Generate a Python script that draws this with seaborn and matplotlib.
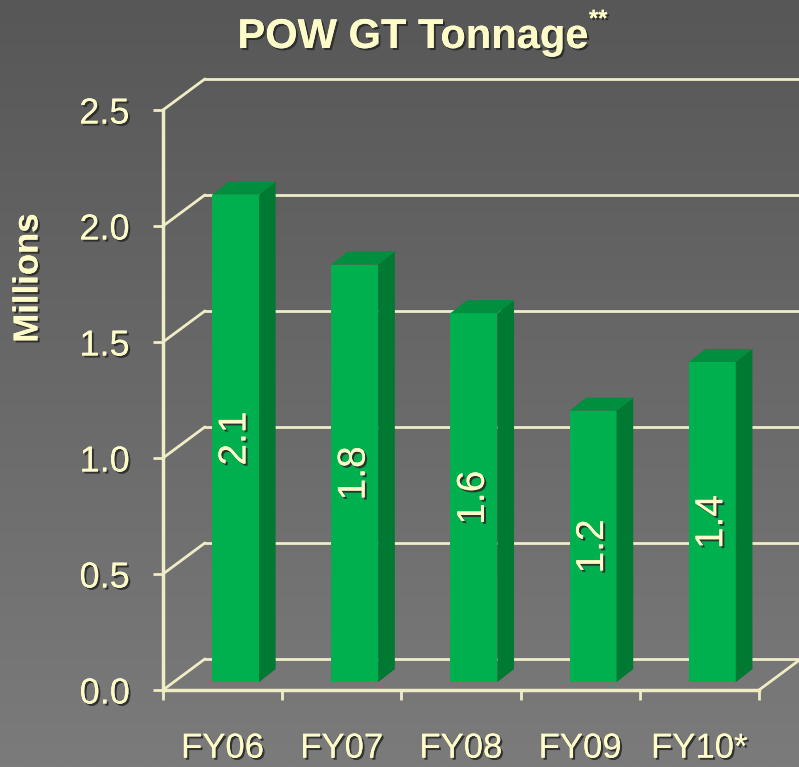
import numpy as np
import matplotlib
matplotlib.use("Agg")
import matplotlib.pyplot as plt
import matplotlib.patheffects as pe
from matplotlib.patches import Polygon
import seaborn as sns
import pandas as pd

# data
years = ["FY06", "FY07", "FY08", "FY09", "FY10*"]
tonnage = [2.10, 1.80, 1.59, 1.17, 1.38]   # millions GT
y_ticks = [0.0, 0.5, 1.0, 1.5, 2.0, 2.5]

df = pd.DataFrame({"year": years, "tonnage": tonnage})

# colours
cream = "#fdfbc8"
line_col = "#efecc6"
green_front = "#00b04f"
green_side = "#007a32"
green_top = "#008f3e"

sns.set_style("white")
narrow = ["Liberation Sans Narrow", "Liberation Sans", "DejaVu Sans"]
regular = ["Liberation Sans", "DejaVu Sans"]
plt.rcParams["font.family"] = regular

shadow = [pe.withSimplePatchShadow(offset=(1.5, -1.5), shadow_rgbFace="#2a2a2a", alpha=0.9),
          pe.Normal()]

fig = plt.figure(figsize=(7.99, 7.67), dpi=100)

# grey gradient backdrop
bg = fig.add_axes([0, 0, 1, 1], zorder=0)
grad = np.linspace(0, 1, 256).reshape(-1, 1)
bg.imshow(grad, aspect="auto", cmap=matplotlib.colors.LinearSegmentedColormap.from_list(
    "bg", ["#575757", "#7b7b7b"]), extent=[0, 1, 0, 1], origin="upper")
bg.set_axis_off()

W, H = 799, 767
ax = fig.add_axes([163 / W, (H - 690) / H, 596 / W, 580 / H], zorder=1)
ax.patch.set_alpha(0)

# depth of the 3d box (data units)
DX, DY = 0.352, 0.134
# bar placement inside the box
bx0, by0 = 0.108, 0.034
bdx, bdy = 0.14, 0.056
bar_w = 0.394

# back wall grid + left wall diagonals
for t in y_ticks:
    ax.plot([-0.5, -0.5 + DX], [t, t + DY], color=line_col, lw=2, clip_on=False, zorder=1)
    ax.plot([-0.5 + DX, 4.5 + DX], [t + DY, t + DY], color=line_col, lw=2, clip_on=False, zorder=1)
ax.plot([4.5, 4.5 + DX], [0, DY], color=line_col, lw=2, clip_on=False, zorder=1)

sns.barplot(data=df, x="year", y="tonnage", color=green_front, width=bar_w,
            saturation=1, ax=ax, zorder=3, edgecolor="none")

for p, v in zip(ax.patches, tonnage):
    x0 = p.get_x() + bx0
    w = p.get_width()
    h = p.get_height()
    p.set_x(x0)
    p.set_y(by0)
    p.set_clip_on(False)
    side = Polygon([(x0 + w, by0), (x0 + w + bdx, by0 + bdy),
                    (x0 + w + bdx, by0 + h + bdy), (x0 + w, by0 + h)],
                   closed=True, facecolor=green_side, edgecolor="none", zorder=3, clip_on=False)
    top = Polygon([(x0, by0 + h), (x0 + bdx, by0 + h + bdy),
                   (x0 + w + bdx, by0 + h + bdy), (x0 + w, by0 + h)],
                  closed=True, facecolor=green_top, edgecolor="none", zorder=3, clip_on=False)
    ax.add_patch(side)
    ax.add_patch(top)
    ax.text(x0 + w / 2, by0 + h / 2, f"{v:.1f}", rotation=90, ha="center", va="center",
            color=cream, fontsize=28, family=regular, zorder=5, path_effects=shadow)

ax.set_xlim(-0.5, 4.5)
ax.set_ylim(0, 2.5)

# front spines
for s in ["top", "right"]:
    ax.spines[s].set_visible(False)
for s in ["left", "bottom"]:
    ax.spines[s].set_color(line_col)
    ax.spines[s].set_linewidth(2.5)
    ax.spines[s].set_zorder(4)

ax.set_yticks(y_ticks)
ax.set_yticklabels([f"{t:.1f}" for t in y_ticks], family=narrow, fontsize=26,
                   color=cream, path_effects=shadow)
ax.set_xticks(np.arange(-0.5, 5.0, 1.0))
ax.set_xticklabels([])
ax.set_xticks(range(len(years)), minor=True)
ax.set_xticklabels(years, minor=True, family=narrow, fontsize=25, color=cream,
                   path_effects=shadow)
ax.tick_params(axis="y", which="major", direction="out", length=7, width=2,
               color=line_col, pad=17, left=True)
ax.tick_params(axis="x", which="major", direction="out", length=7, width=2,
               color=line_col, bottom=True)
ax.tick_params(axis="x", which="minor", length=0, pad=30)
ax.set_xlabel("")
ax.set_ylabel("")

fig.text(28 / W, 1 - 278 / H, "Millions", rotation=90, ha="center", va="center",
         fontsize=25, fontweight="bold", family=narrow, color=cream, path_effects=shadow)
fig.text(413 / W, 1 - 48 / H, "POW GT Tonnage", ha="center", va="baseline",
         fontsize=30, fontweight="bold", color=cream, path_effects=shadow)
fig.text(589 / W, 1 - 8 / H, "**", ha="left", va="top",
         fontsize=17, fontweight="bold", color=cream, path_effects=shadow)

fig.savefig("out.png", dpi=100)
